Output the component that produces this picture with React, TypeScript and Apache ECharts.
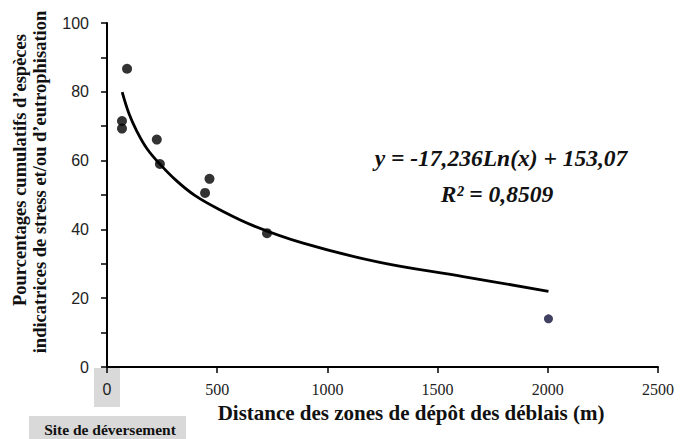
import React, { useEffect, useRef } from "react";
import * as echarts from "echarts";

const pointsX = [68, 68, 91, 226, 240, 445, 465, 726];
const pointsY = [71.5, 69.3, 86.7, 66.1, 59.0, 50.6, 54.7, 38.9];
const lastPointX = [2003];
const lastPointY = [14.0];
const trendX = [69, 100, 135, 180, 237, 316, 400, 512, 663, 890, 1238, 1616, 2003];
const trendY = [79.9, 73.6, 68.6, 63.6, 59.2, 54.1, 49.8, 45.7, 41.1, 36.0, 30.4, 26.3, 22.0];
const yAxisTitle1 = "Pourcentages cumulatifs d’espèces";
const yAxisTitle2 = "indicatrices de stress et/ou d’eutrophisation";
const xAxisTitle = "Distance des zones de dépôt des déblais (m)";
const equation = "y = -17,236Ln(x) + 153,07";
const rSquared = "R² = 0,8509";
const siteLabel = "Site de déversement";

const serif = "'Liberation Serif', 'Times New Roman', serif";
const sans = "'Liberation Sans', Arial, sans-serif";

export default function App() {
  const ref = useRef<HTMLDivElement>(null);
  useEffect(() => {
    if (!ref.current) return;
    const chart = echarts.init(ref.current, undefined, { renderer: "svg" });
    chart.setOption({
      animation: false,
      backgroundColor: "#ffffff",
      grid: { left: 107, right: 25, top: 23, bottom: 72 },
      xAxis: {
        type: "value",
        min: 0,
        max: 2500,
        interval: 500,
        z: 3,
        splitLine: { show: false },
        axisLine: { onZero: false, lineStyle: { color: "#000", width: 2 } },
        axisTick: { show: true, length: 6, inside: false, lineStyle: { color: "#000", width: 1.5 } },
        axisLabel: {
          margin: 14,
          color: "#222",
          fontSize: 16,
          fontFamily: serif,
          formatter: (v: number) => (v === 0 ? "{z|0}" : String(v)),
          rich: { z: { fontFamily: sans, fontSize: 16, color: "#222" } },
        },
      },
      yAxis: {
        type: "value",
        min: 0,
        max: 100,
        interval: 10,
        z: 3,
        splitLine: { show: false },
        axisLine: { show: true, lineStyle: { color: "#000", width: 2 } },
        axisTick: { show: true, length: 6, lineStyle: { color: "#000", width: 1.5 } },
        axisLabel: {
          margin: 18,
          color: "#222",
          fontSize: 16,
          fontFamily: sans,
          formatter: (v: number) => (v % 20 === 0 ? String(v) : ""),
        },
      },
      graphic: [
        { type: "rect", z: 0, shape: { x: 94, y: 368, width: 26, height: 39 }, style: { fill: "#d9d9d9" } },
        { type: "rect", z: 0, shape: { x: 29, y: 416, width: 157, height: 23 }, style: { fill: "#d9d9d9" } },
        {
          type: "text", z: 5, x: 110, y: 429,
          style: { text: siteLabel, font: `bold 15.5px ${serif}`, fill: "#111", textAlign: "center", textVerticalAlign: "middle" },
        },
        {
          type: "text", z: 5, x: 20, y: 170, rotation: Math.PI / 2,
          style: { text: yAxisTitle1, font: `bold 18.5px ${serif}`, fill: "#111", textAlign: "center", textVerticalAlign: "middle" },
        },
        {
          type: "text", z: 5, x: 40, y: 182, rotation: Math.PI / 2,
          style: { text: yAxisTitle2, font: `bold 18.5px ${serif}`, fill: "#111", textAlign: "center", textVerticalAlign: "middle" },
        },
        {
          type: "text", z: 5, x: 411, y: 413,
          style: { text: xAxisTitle, font: `bold 21px ${serif}`, fill: "#111", textAlign: "center", textVerticalAlign: "middle" },
        },
        {
          type: "text", z: 5, x: 501, y: 158,
          style: { text: equation, font: `italic bold 23.5px ${serif}`, fill: "#111", textAlign: "center", textVerticalAlign: "middle" },
        },
        {
          type: "text", z: 5, x: 497, y: 194,
          style: { text: rSquared, font: `italic bold 23.5px ${serif}`, fill: "#111", textAlign: "center", textVerticalAlign: "middle" },
        },
      ],
      series: [
        {
          type: "line",
          data: trendX.map((x, i) => [x, trendY[i]]),
          smooth: 0.4,
          showSymbol: false,
          lineStyle: { color: "#000", width: 2.8 },
          z: 2,
        },
        {
          type: "scatter",
          data: pointsX.map((x, i) => [x, pointsY[i]]),
          symbol: "circle",
          symbolSize: 10,
          itemStyle: { color: "#000" },
          z: 3,
        },
        {
          type: "scatter",
          data: lastPointX.map((x, i) => [x, lastPointY[i]]),
          symbol: "circle",
          symbolSize: 9,
          itemStyle: { color: "#12123a" },
          z: 3,
        },
      ],
    });
    return () => chart.dispose();
  }, []);
  return <div ref={ref} style={{ width: 683, height: 439, position: "absolute", left: 0, top: 0 }} />;
}
